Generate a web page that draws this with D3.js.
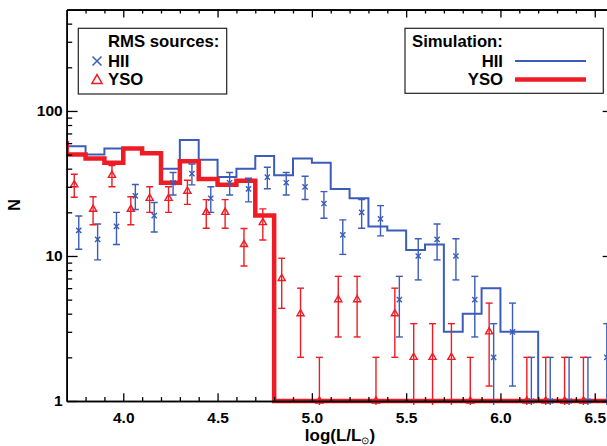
<!DOCTYPE html>
<html>
<head>
<meta charset="utf-8">
<script src="https://cdn.jsdelivr.net/npm/d3@7"></script>
<style>
body { margin: 0; background: #fff; }
svg { display: block; font-family: "Liberation Sans", Arial, Helvetica, sans-serif; font-weight: bold; }
</style>
</head>
<body>
<script>
// Simulated histograms: bin edges (last one is the right edge) and counts per bin.
var binEdges = [3.6, 3.7, 3.8, 3.9, 4.0, 4.1, 4.2, 4.3, 4.4, 4.5, 4.6, 4.7, 4.8, 4.9, 5.0,
                5.1, 5.2, 5.3, 5.4, 5.5, 5.6, 5.7, 5.8, 5.9, 6.0, 6.1, 6.2, 6.3, 6.4, 6.5, 6.6];
var simHII = [70, 57, 50, 55, 55, 51, 40, 63, 46, 35, 40, 49, 36, 47, 44,
              29, 25, 16, 15, 11, 12, 3, 4, 6, 3, 3, 1, 1, 1, 1];
var simYSO = [60, 50, 47, 44, 55, 51, 32, 45, 34, 31, 33, 19, 1, 1, 1,
              1, 1, 1, 1, 1, 1, 1, 1, 1, 1, 1, 1, 1, 1, 1];

// RMS sources: bin centres and counts (poisson error bars).
var binCentres = [3.75, 3.85, 3.95, 4.05, 4.15, 4.25, 4.35, 4.45, 4.55, 4.65, 4.75, 4.85, 4.95, 5.05, 5.15,
                  5.25, 5.35, 5.45, 5.55, 5.65, 5.75, 5.85, 5.95, 6.05, 6.15, 6.25, 6.35, 6.45, 6.55];
var rmsHII = [15, 13, 16, 26, 19, 32, 37, 25, 32, 29, 35, 32, 30, 23, 14,
              20, 18, 5, 10, 13, 10, 5, 2, 3, 1, 1, 1, 1, 2];
var rmsYSO = [31, 21, 36, 21, 25, 25, 28, 20, 20, 12, 17, 7, 4, 1, 5,
              5, 1, 4, 2, 2, 2, 1, 3, 0, 1, 1, 1, 1, 0];

// Axis ticks.
var xMajor = [4.0, 4.5, 5.0, 5.5, 6.0, 6.5];
var yMajor = [1, 10, 100];
var yMinor = [2, 3, 4, 5, 6, 7, 8, 9, 20, 30, 40, 50, 60, 70, 80, 90, 200, 300, 400];

var blue = "#3b5cb8";
var red = "#ee1c25";

var margin = {left: 66.7, top: 9.6};
var width = 546.9, height = 391.4;

var svg = d3.select("body")
  .append("svg")
  .attr("width", 607)
  .attr("height", 446);

var x = d3.scaleLinear().domain([3.7, 6.6]).range([0, width]);
var y = d3.scaleLog().domain([1, 500]).range([height, 0]);

var plot = svg.append("g")
  .attr("transform", "translate(" + margin.left + "," + margin.top + ")");

plot.append("clipPath").attr("id", "clip")
  .append("rect")
  .attr("x", 0).attr("y", -6)
  .attr("width", width).attr("height", height + 12);

// Simulation histograms.
function stepPoints(vals) {
  var pts = vals.map(function(v, i){ return [binEdges[i], v]; });
  pts.push([binEdges[vals.length], vals[vals.length - 1]]);
  return pts;
}
var step = d3.line()
  .x(function(d){ return x(d[0]); })
  .y(function(d){ return y(d[1]); })
  .curve(d3.curveStepAfter);

var hist = plot.append("g").attr("clip-path", "url(#clip)");
hist.append("path")
  .attr("d", step(stepPoints(simHII)))
  .attr("fill", "none").attr("stroke", blue).attr("stroke-width", 2);
hist.append("path")
  .attr("d", step(stepPoints(simYSO)))
  .attr("fill", "none").attr("stroke", red).attr("stroke-width", 4.5);

// Data points with error bars.
function drawPoints(vals, shift, colour, shape) {
  var pts = [];
  vals.forEach(function(n, i){
    if (n > 0) pts.push({x: binCentres[i] + shift, n: n});
  });
  var g = plot.append("g").attr("clip-path", "url(#clip)");
  var pt = g.selectAll("g.pt").data(pts).enter().append("g").attr("class", "pt");
  pt.attr("stroke", colour).attr("fill", "none").attr("stroke-width", 1.4);

  pt.append("line")
    .attr("x1", function(d){ return x(d.x); })
    .attr("x2", function(d){ return x(d.x); })
    .attr("y1", function(d){ return y(d.n + Math.sqrt(d.n)); })
    .attr("y2", function(d){
      var lo = d.n - Math.sqrt(d.n);
      return lo >= 1 ? y(lo) : height + 4;
    });
  // top caps
  pt.append("line")
    .attr("x1", function(d){ return x(d.x) - 3.5; })
    .attr("x2", function(d){ return x(d.x) + 3.5; })
    .attr("y1", function(d){ return y(d.n + Math.sqrt(d.n)); })
    .attr("y2", function(d){ return y(d.n + Math.sqrt(d.n)); });
  // bottom caps
  pt.filter(function(d){ return d.n - Math.sqrt(d.n) >= 1; })
    .append("line")
    .attr("x1", function(d){ return x(d.x) - 3.5; })
    .attr("x2", function(d){ return x(d.x) + 3.5; })
    .attr("y1", function(d){ return y(d.n - Math.sqrt(d.n)); })
    .attr("y2", function(d){ return y(d.n - Math.sqrt(d.n)); });
  // symbols
  pt.append("path")
    .attr("transform", function(d){ return "translate(" + x(d.x) + "," + y(d.n) + ")"; })
    .attr("d", shape);
}

var crossSmall = "M-2.6,-2.6L2.6,2.6M-2.6,2.6L2.6,-2.6";
var triSmall = d3.symbol(d3.symbolTriangle).size(22)();

drawPoints(rmsHII, 0.014, blue, crossSmall);
drawPoints(rmsYSO, -0.01, red, triSmall);

// Axes (ticks pointing inwards, mirrored on top and right).
var minorX = d3.range(38, 66).map(function(v){ return v / 10; })
  .filter(function(v){ return xMajor.indexOf(v) < 0; });

function styleAxis(g) {
  g.selectAll("path").attr("stroke", "#000").attr("stroke-width", 1.6);
  g.selectAll("line").attr("stroke", "#000").attr("stroke-width", 1.3);
  g.selectAll("text").attr("fill", "#000").attr("font-size", 15.5).attr("font-weight", "bold");
}

plot.append("g").attr("transform", "translate(0," + height + ")")
  .call(d3.axisBottom(x).tickValues(xMajor).tickSizeInner(-7.8).tickSizeOuter(0)
    .tickPadding(11.2).tickFormat(d3.format(".1f")))
  .call(styleAxis);
plot.append("g").attr("transform", "translate(0," + height + ")")
  .call(d3.axisBottom(x).tickValues(minorX).tickSizeInner(-3.9).tickSizeOuter(0).tickFormat(""))
  .call(styleAxis);
plot.append("g")
  .call(d3.axisTop(x).tickValues(xMajor).tickSizeInner(-7.8).tickSizeOuter(0).tickFormat(""))
  .call(styleAxis);
plot.append("g")
  .call(d3.axisTop(x).tickValues(minorX).tickSizeInner(-3.9).tickSizeOuter(0).tickFormat(""))
  .call(styleAxis);

plot.append("g")
  .call(d3.axisLeft(y).tickValues(yMajor).tickSizeInner(-10.9).tickSizeOuter(0)
    .tickPadding(4).tickFormat(d3.format("d")))
  .call(styleAxis);
plot.append("g")
  .call(d3.axisLeft(y).tickValues(yMinor).tickSizeInner(-5.5).tickSizeOuter(0).tickFormat(""))
  .call(styleAxis);
plot.append("g").attr("transform", "translate(" + width + ",0)")
  .call(d3.axisRight(y).tickValues(yMajor).tickSizeInner(-10.9).tickSizeOuter(0).tickFormat(""))
  .call(styleAxis);
plot.append("g").attr("transform", "translate(" + width + ",0)")
  .call(d3.axisRight(y).tickValues(yMinor).tickSizeInner(-5.5).tickSizeOuter(0).tickFormat(""))
  .call(styleAxis);

// Axis titles.
svg.append("text")
  .attr("transform", "translate(20,205) rotate(-90)")
  .attr("text-anchor", "middle")
  .attr("font-size", 16)
  .text("N");

var xt = svg.append("text")
  .attr("x", 340).attr("y", 441)
  .attr("text-anchor", "middle")
  .attr("font-size", 17);
xt.append("tspan").text("log(L/L");
xt.append("tspan").attr("font-size", 10).attr("dy", 3).attr("font-weight", "normal").text("\u2299");
xt.append("tspan").attr("dy", -3).text(")");

// Legends.
var leg1 = svg.append("g");
leg1.append("rect").attr("x", 78.3).attr("y", 28.3).attr("width", 148.4).attr("height", 65.7)
  .attr("fill", "#fff").attr("stroke", "#222").attr("stroke-width", 1.2);
leg1.append("text").attr("x", 108).attr("y", 47).attr("font-size", 16.7).text("RMS sources:");
leg1.append("text").attr("x", 108).attr("y", 66.5).attr("font-size", 16.7).text("HII");
leg1.append("text").attr("x", 108).attr("y", 85).attr("font-size", 16.7).text("YSO");
leg1.append("path").attr("transform", "translate(97,61)")
  .attr("d", "M-4.5,-4.5L4.5,4.5M-4.5,4.5L4.5,-4.5")
  .attr("stroke", blue).attr("stroke-width", 1.5).attr("fill", "none");
leg1.append("path").attr("transform", "translate(97,80.5)")
  .attr("d", d3.symbol(d3.symbolTriangle).size(45)())
  .attr("stroke", red).attr("stroke-width", 1.5).attr("fill", "none");

var leg2 = svg.append("g");
leg2.append("rect").attr("x", 405).attr("y", 28.3).attr("width", 198.3).attr("height", 65)
  .attr("fill", "#fff").attr("stroke", "#222").attr("stroke-width", 1.2);
leg2.append("text").attr("x", 412).attr("y", 47).attr("font-size", 16.7).text("Simulation:");
leg2.append("text").attr("x", 503).attr("y", 66.5).attr("text-anchor", "end").attr("font-size", 16.7).text("HII");
leg2.append("text").attr("x", 503).attr("y", 85).attr("text-anchor", "end").attr("font-size", 16.7).text("YSO");
leg2.append("line").attr("x1", 515).attr("x2", 586).attr("y1", 61).attr("y2", 61)
  .attr("stroke", blue).attr("stroke-width", 2);
leg2.append("line").attr("x1", 515).attr("x2", 586).attr("y1", 79.5).attr("y2", 79.5)
  .attr("stroke", red).attr("stroke-width", 4.5);
</script>
</body>
</html>
